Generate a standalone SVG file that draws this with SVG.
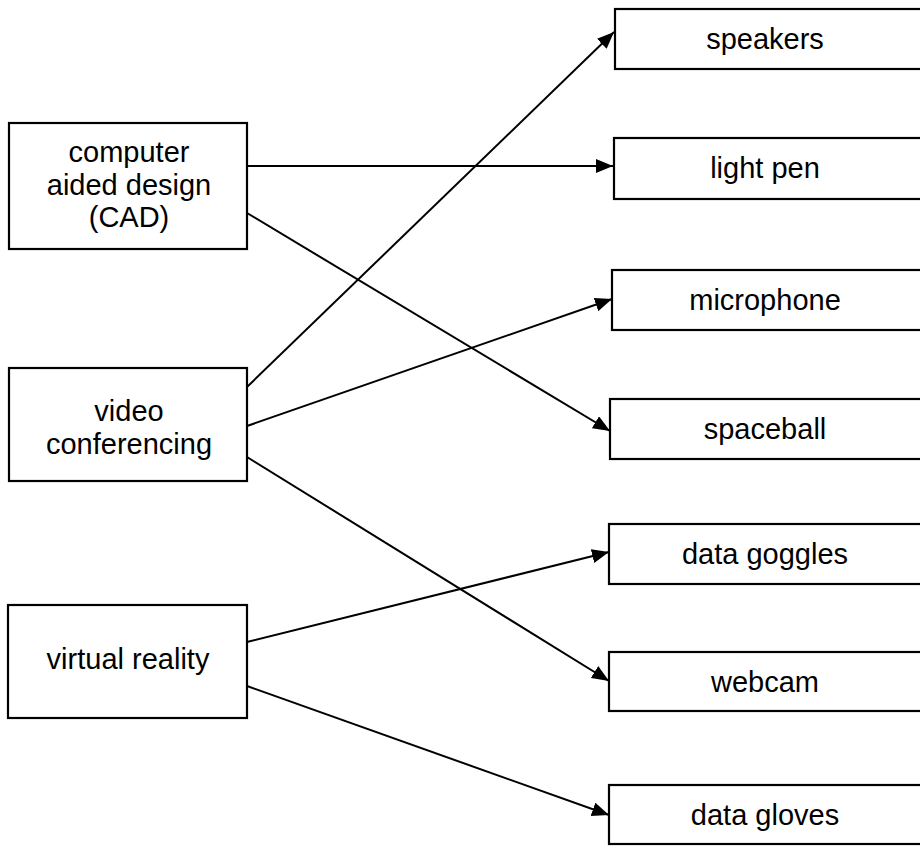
<svg xmlns="http://www.w3.org/2000/svg" width="920" height="846" viewBox="0 0 920 846">
<defs>
<style>
.box{fill:#fff;stroke:#000;stroke-width:2.2}
.lbl{font-family:"Liberation Sans",Arial,sans-serif;font-size:29px;fill:#000;text-anchor:middle}
.con{stroke:#000;stroke-width:2;fill:none;marker-end:url(#ah)}
</style>
<marker id="ah" markerUnits="userSpaceOnUse" markerWidth="19" markerHeight="15" refX="17" refY="7" orient="auto">
<path d="M0,0 L17,7 L0,14 z" fill="#000"/>
</marker>
</defs>
<rect width="920" height="846" fill="#fff"/>
<g id="connectors">
<line class="con" x1="247" y1="166" x2="613" y2="166"/>
<line class="con" x1="247" y1="213" x2="610" y2="431"/>
<line class="con" x1="247" y1="387" x2="614" y2="32"/>
<line class="con" x1="247" y1="426" x2="612" y2="299"/>
<line class="con" x1="247" y1="457" x2="609" y2="681"/>
<line class="con" x1="247" y1="642" x2="609" y2="552"/>
<line class="con" x1="247" y1="686" x2="609" y2="815"/>
</g>
<g id="cad">
<rect class="box" x="9" y="123" width="238" height="126"/>
<text class="lbl" x="129" y="162">computer</text>
<text class="lbl" x="129" y="195">aided design</text>
<text class="lbl" x="129" y="227">(CAD)</text>
</g>
<g id="video">
<rect class="box" x="9" y="368" width="238" height="113"/>
<text class="lbl" x="129" y="421">video</text>
<text class="lbl" x="129" y="454">conferencing</text>
</g>
<g id="vr">
<rect class="box" x="8" y="605" width="239" height="113"/>
<text class="lbl" x="128" y="669">virtual reality</text>
</g>
<g id="speakers">
<rect class="box" x="615" y="9" width="320" height="60"/>
<text class="lbl" x="765" y="49">speakers</text>
</g>
<g id="lightpen">
<rect class="box" x="614" y="138" width="320" height="61"/>
<text class="lbl" x="765" y="178">light pen</text>
</g>
<g id="microphone">
<rect class="box" x="612" y="270" width="320" height="60"/>
<text class="lbl" x="765" y="310">microphone</text>
</g>
<g id="spaceball">
<rect class="box" x="610" y="399" width="320" height="60"/>
<text class="lbl" x="765" y="439">spaceball</text>
</g>
<g id="datagoggles">
<rect class="box" x="609" y="524" width="320" height="60"/>
<text class="lbl" x="765" y="564">data goggles</text>
</g>
<g id="webcam">
<rect class="box" x="609" y="652" width="320" height="59"/>
<text class="lbl" x="765" y="692">webcam</text>
</g>
<g id="datagloves">
<rect class="box" x="609" y="785" width="320" height="59"/>
<text class="lbl" x="765" y="825">data gloves</text>
</g>
</svg>
